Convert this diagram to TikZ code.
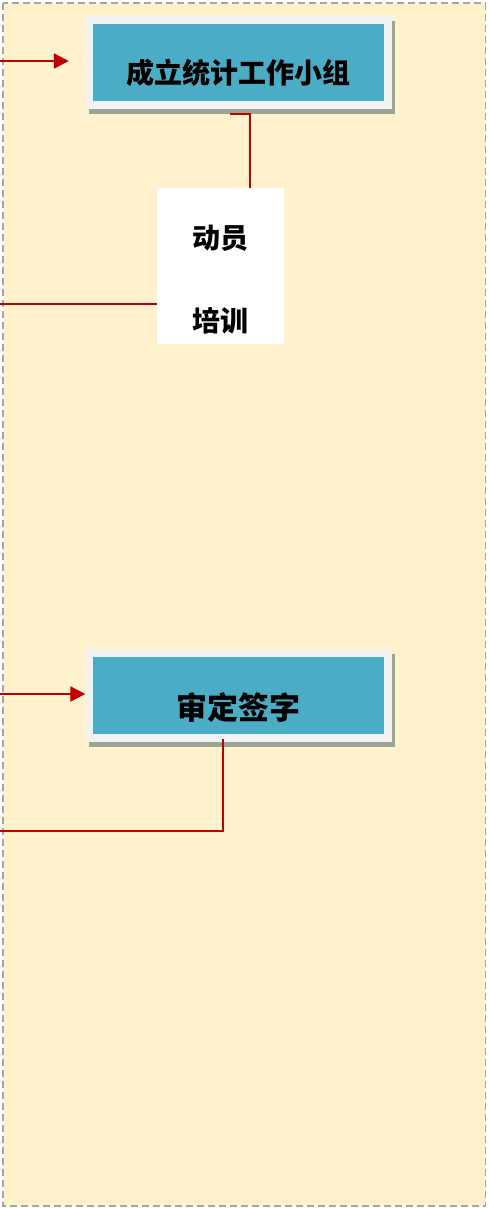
\documentclass[tikz,border=0pt]{standalone}
\usepackage{fontspec}
\newfontfamily\cjk{Noto Sans CJK SC}
\usetikzlibrary{positioning, shadows, arrows.meta}
\definecolor{framefill}{HTML}{FFF2CC}
\definecolor{framegray}{HTML}{A6A6A6}
\definecolor{boxrim}{HTML}{F2F2F2}
\definecolor{boxblue}{HTML}{4BACC6}
\definecolor{boxshade}{HTML}{97A697}
\definecolor{linkred}{HTML}{C00000}
\tikzset{
    link/.style={draw=linkred, line width=2.3pt}, % plain red connector
    flow/.style={link, -{Triangle[length=15pt,width=15pt]}}, % red connector with a head
    stagebox/.style={fill=boxrim, minimum width=306pt, minimum height=93pt, inner sep=0pt,
        drop shadow={shadow xshift=3pt, shadow yshift=-5pt, fill=boxshade, opacity=1},
        path picture={\fill[boxblue] ([shift={(7pt,8pt)}]path picture bounding box.south west)
            rectangle ([shift={(-8pt,-8pt)}]path picture bounding box.north east);},
        text depth=0pt}, % light rim round a blue box
    notebox/.style={fill=white, minimum width=127pt, minimum height=156pt, inner sep=0pt,
        align=center, font=\cjk\bfseries\fontsize{28pt}{83pt}\selectfont}, % plain white box
}
\begin{document}
\begin{tikzpicture}[x=1pt, y=-1pt]
    \useasboundingbox (0,0) rectangle (488,1208);
    \draw[framegray, fill=framefill, line width=1.5pt, dash pattern=on 7pt off 4pt] (3,3) rectangle (485.5,1206);

    \node[stagebox, text height=41pt, font=\cjk\bfseries\fontsize{28pt}{33pt}\selectfont] (grp) at (238.5,62.5) {成立统计工作小组};
    \node[notebox] (train) at (220.5,266) {\rule{0pt}{51pt}动员\\培训};
    \node[stagebox, below=540pt of grp, text height=47pt, font=\cjk\bfseries\fontsize{31pt}{37pt}\selectfont] (sign) {审定签字};

    \coordinate (in1) at (0,61);
    \coordinate (out1) at (0,304);
    \coordinate (in2) at (0,694);
    \coordinate (out2) at (0,831);

    \draw[flow, shorten >=16.5pt] (in1) -- (in1 -| grp.west);
    \draw[link] ([shift={(-8.5,5)}]grp.south) -| ([xshift=29.5pt]train.north);
    \draw[link] (out1) -- (out1 -| train.west);
    \draw[flow] (in2) -- (in2 -| sign.west);
    \draw[link] ([shift={(-15.5,-4)}]sign.south) |- (out2);
\end{tikzpicture}
\end{document}
